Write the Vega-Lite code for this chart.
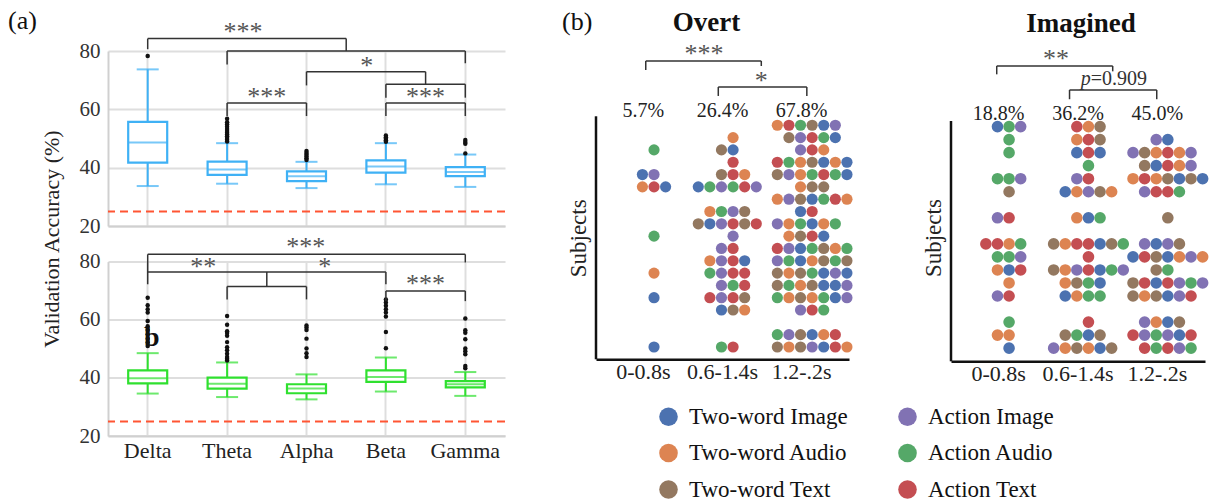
{
"$schema":"https://vega.github.io/schema/vega-lite/v6.json",
"background":"white",
"padding":{"left":8,"top":7,"right":0,"bottom":0},
"bounds":"flush",
"spacing":488,
"datasets":{
"topBox":[
{"band":"Delta","lo":33.7,"q1":41.7,"med":48.6,"q3":55.7,"hi":73.7},
{"band":"Theta","lo":34.5,"q1":37.5,"med":39.4,"q3":42.1,"hi":48.4},
{"band":"Alpha","lo":33.0,"q1":35.4,"med":37.1,"q3":38.7,"hi":42.0},
{"band":"Beta","lo":34.3,"q1":38.3,"med":40.4,"q3":42.5,"hi":48.4},
{"band":"Gamma","lo":33.4,"q1":37.1,"med":38.5,"q3":40.2,"hi":44.5}],
"topOut":[
{"band":"Delta","v":78.3},
{"band":"Theta","v":49.0},{"band":"Theta","v":49.6},{"band":"Theta","v":50.2},{"band":"Theta","v":50.8},{"band":"Theta","v":51.4},{"band":"Theta","v":52.0},{"band":"Theta","v":52.6},{"band":"Theta","v":53.3},{"band":"Theta","v":54.0},{"band":"Theta","v":54.8},{"band":"Theta","v":55.6},{"band":"Theta","v":56.8},
{"band":"Alpha","v":42.6},{"band":"Alpha","v":43.2},{"band":"Alpha","v":43.8},{"band":"Alpha","v":44.4},{"band":"Alpha","v":45.0},{"band":"Alpha","v":45.7},
{"band":"Beta","v":48.9},{"band":"Beta","v":49.4},{"band":"Beta","v":49.9},{"band":"Beta","v":50.4},{"band":"Beta","v":51.0},
{"band":"Gamma","v":44.9},{"band":"Gamma","v":48.2},{"band":"Gamma","v":48.8},{"band":"Gamma","v":49.5}],
"botBox":[
{"band":"Delta","lo":34.6,"q1":38.1,"med":39.9,"q3":42.6,"hi":48.5},
{"band":"Theta","lo":33.4,"q1":36.3,"med":38.0,"q3":40.1,"hi":45.3},
{"band":"Alpha","lo":32.6,"q1":34.7,"med":36.3,"q3":37.8,"hi":41.2},
{"band":"Beta","lo":35.3,"q1":38.6,"med":40.3,"q3":42.6,"hi":47.0},
{"band":"Gamma","lo":33.8,"q1":36.7,"med":37.8,"q3":38.9,"hi":42.0}],
"botOut":[
{"band":"Delta","v":51.0},{"band":"Delta","v":52.2},{"band":"Delta","v":53.5},{"band":"Delta","v":55.0},{"band":"Delta","v":56.5},{"band":"Delta","v":57.8},{"band":"Delta","v":59.6},{"band":"Delta","v":62.5},{"band":"Delta","v":63.6},{"band":"Delta","v":65.0},{"band":"Delta","v":67.6},
{"band":"Theta","v":46.0},{"band":"Theta","v":46.6},{"band":"Theta","v":47.2},{"band":"Theta","v":48.3},{"band":"Theta","v":49.5},{"band":"Theta","v":50.5},{"band":"Theta","v":52.3},{"band":"Theta","v":54.5},{"band":"Theta","v":55.4},{"band":"Theta","v":56.0},{"band":"Theta","v":58.3},{"band":"Theta","v":61.3},
{"band":"Alpha","v":47.2},{"band":"Alpha","v":48.5},{"band":"Alpha","v":50.1},{"band":"Alpha","v":53.5},{"band":"Alpha","v":56.5},{"band":"Alpha","v":57.3},{"band":"Alpha","v":58.0},
{"band":"Beta","v":50.2},{"band":"Beta","v":55.8},{"band":"Beta","v":61.1},{"band":"Beta","v":62.5},{"band":"Beta","v":63.6},{"band":"Beta","v":64.8},{"band":"Beta","v":65.9},{"band":"Beta","v":67.0},
{"band":"Gamma","v":43.3},{"band":"Gamma","v":44.1},{"band":"Gamma","v":48.1},{"band":"Gamma","v":49.2},{"band":"Gamma","v":50.1},{"band":"Gamma","v":53.3},{"band":"Gamma","v":55.5},{"band":"Gamma","v":56.4},{"band":"Gamma","v":60.4}],
"topSeg":[
{"x1":0,"x2":0,"y1":80.6,"y2":84.25},{"x1":0,"x2":2.5,"y1":84.25,"y2":84.25},{"x1":2.5,"x2":2.5,"y1":84.25,"y2":80},
{"x1":1,"x2":4,"y1":80,"y2":80},{"x1":1,"x2":1,"y1":80,"y2":75.4},{"x1":4,"x2":4,"y1":80,"y2":75.8},
{"x1":2,"x2":3.5,"y1":72.9,"y2":72.9},{"x1":2,"x2":2,"y1":72.9,"y2":68.2},{"x1":3.5,"x2":3.5,"y1":72.9,"y2":68.6},
{"x1":3,"x2":4,"y1":68.6,"y2":68.6},{"x1":3,"x2":3,"y1":68.6,"y2":64.0},{"x1":4,"x2":4,"y1":68.6,"y2":64.0},
{"x1":3,"x2":4,"y1":62.2,"y2":62.2},{"x1":3,"x2":3,"y1":62.2,"y2":57.7},{"x1":4,"x2":4,"y1":62.2,"y2":57.7},
{"x1":1,"x2":2,"y1":62.2,"y2":62.2},{"x1":1,"x2":1,"y1":62.2,"y2":57.7},{"x1":2,"x2":2,"y1":62.2,"y2":57.7}],
"topTxt":[{"x":1.2,"y":87.7,"t":"***"},{"x":2.76,"y":75.8,"t":"*"},{"x":3.5,"y":65.3,"t":"***"},{"x":1.5,"y":65.3,"t":"***"}],
"botSeg":[
{"x1":0,"x2":4,"y1":82.5,"y2":82.5},{"x1":4,"x2":4,"y1":82.5,"y2":79.7},{"x1":0,"x2":0,"y1":82.5,"y2":72.2},
{"x1":0,"x2":3,"y1":76.4,"y2":76.4},{"x1":3,"x2":3,"y1":76.4,"y2":72.2},{"x1":1.5,"x2":1.5,"y1":76.4,"y2":71.4},
{"x1":1,"x2":2,"y1":71.4,"y2":71.4},{"x1":1,"x2":1,"y1":71.4,"y2":67.0},{"x1":2,"x2":2,"y1":71.4,"y2":67.0},
{"x1":3,"x2":4,"y1":69.9,"y2":69.9},{"x1":3,"x2":3,"y1":69.9,"y2":66.4},{"x1":4,"x2":4,"y1":69.9,"y2":66.4}],
"botTxt":[{"x":1.99,"y":85.9,"t":"***"},{"x":0.7,"y":79.3,"t":"**"},{"x":2.23,"y":79.3,"t":"*"},{"x":3.5,"y":73.3,"t":"***"}],
"overt":[
{"w":"0-0.8s","s":3,"k":0,"c":"G"},
{"w":"0-0.8s","s":5,"k":-1,"c":"B"},{"w":"0-0.8s","s":5,"k":0,"c":"P"},
{"w":"0-0.8s","s":6,"k":-1,"c":"O"},{"w":"0-0.8s","s":6,"k":0,"c":"R"},{"w":"0-0.8s","s":6,"k":1,"c":"B"},
{"w":"0-0.8s","s":10,"k":0,"c":"G"},{"w":"0-0.8s","s":13,"k":0,"c":"O"},{"w":"0-0.8s","s":15,"k":0,"c":"B"},{"w":"0-0.8s","s":19,"k":0,"c":"B"},
{"w":"0.6-1.4s","s":2,"k":0,"c":"O"},
{"w":"0.6-1.4s","s":3,"k":-1,"c":"N"},{"w":"0.6-1.4s","s":3,"k":0,"c":"B"},
{"w":"0.6-1.4s","s":4,"k":0,"c":"R"},
{"w":"0.6-1.4s","s":5,"k":-1,"c":"N"},{"w":"0.6-1.4s","s":5,"k":0,"c":"R"},{"w":"0.6-1.4s","s":5,"k":1,"c":"O"},
{"w":"0.6-1.4s","s":6,"k":-3,"c":"B"},{"w":"0.6-1.4s","s":6,"k":-2,"c":"G"},{"w":"0.6-1.4s","s":6,"k":-1,"c":"P"},{"w":"0.6-1.4s","s":6,"k":0,"c":"G"},{"w":"0.6-1.4s","s":6,"k":1,"c":"R"},{"w":"0.6-1.4s","s":6,"k":2,"c":"P"},
{"w":"0.6-1.4s","s":8,"k":-2,"c":"O"},{"w":"0.6-1.4s","s":8,"k":-1,"c":"G"},{"w":"0.6-1.4s","s":8,"k":0,"c":"P"},{"w":"0.6-1.4s","s":8,"k":1,"c":"N"},
{"w":"0.6-1.4s","s":9,"k":-3,"c":"N"},{"w":"0.6-1.4s","s":9,"k":-2,"c":"B"},{"w":"0.6-1.4s","s":9,"k":-1,"c":"P"},{"w":"0.6-1.4s","s":9,"k":0,"c":"R"},{"w":"0.6-1.4s","s":9,"k":1,"c":"N"},{"w":"0.6-1.4s","s":9,"k":2,"c":"R"},
{"w":"0.6-1.4s","s":10,"k":0,"c":"P"},
{"w":"0.6-1.4s","s":11,"k":-1,"c":"P"},{"w":"0.6-1.4s","s":11,"k":0,"c":"R"},
{"w":"0.6-1.4s","s":12,"k":-2,"c":"O"},{"w":"0.6-1.4s","s":12,"k":-1,"c":"P"},{"w":"0.6-1.4s","s":12,"k":0,"c":"R"},{"w":"0.6-1.4s","s":12,"k":1,"c":"B"},
{"w":"0.6-1.4s","s":13,"k":-2,"c":"G"},{"w":"0.6-1.4s","s":13,"k":-1,"c":"P"},{"w":"0.6-1.4s","s":13,"k":0,"c":"R"},{"w":"0.6-1.4s","s":13,"k":1,"c":"R"},
{"w":"0.6-1.4s","s":14,"k":-1,"c":"P"},{"w":"0.6-1.4s","s":14,"k":0,"c":"G"},{"w":"0.6-1.4s","s":14,"k":1,"c":"R"},
{"w":"0.6-1.4s","s":15,"k":-2,"c":"R"},{"w":"0.6-1.4s","s":15,"k":-1,"c":"P"},{"w":"0.6-1.4s","s":15,"k":0,"c":"R"},{"w":"0.6-1.4s","s":15,"k":1,"c":"N"},
{"w":"0.6-1.4s","s":16,"k":-1,"c":"B"},{"w":"0.6-1.4s","s":16,"k":0,"c":"N"},{"w":"0.6-1.4s","s":16,"k":1,"c":"O"},
{"w":"0.6-1.4s","s":19,"k":-1,"c":"G"},{"w":"0.6-1.4s","s":19,"k":0,"c":"R"},
{"w":"1.2-.2s","s":1,"k":-3,"c":"O"},{"w":"1.2-.2s","s":1,"k":-2,"c":"R"},{"w":"1.2-.2s","s":1,"k":-1,"c":"G"},{"w":"1.2-.2s","s":1,"k":0,"c":"N"},{"w":"1.2-.2s","s":1,"k":1,"c":"B"},{"w":"1.2-.2s","s":1,"k":2,"c":"P"},
{"w":"1.2-.2s","s":2,"k":-2,"c":"N"},{"w":"1.2-.2s","s":2,"k":-1,"c":"P"},{"w":"1.2-.2s","s":2,"k":0,"c":"R"},{"w":"1.2-.2s","s":2,"k":1,"c":"G"},{"w":"1.2-.2s","s":2,"k":2,"c":"B"},
{"w":"1.2-.2s","s":3,"k":-1,"c":"P"},{"w":"1.2-.2s","s":3,"k":0,"c":"R"},{"w":"1.2-.2s","s":3,"k":1,"c":"O"},
{"w":"1.2-.2s","s":4,"k":-3,"c":"R"},{"w":"1.2-.2s","s":4,"k":-2,"c":"G"},{"w":"1.2-.2s","s":4,"k":-1,"c":"O"},{"w":"1.2-.2s","s":4,"k":0,"c":"N"},{"w":"1.2-.2s","s":4,"k":1,"c":"B"},{"w":"1.2-.2s","s":4,"k":2,"c":"O"},{"w":"1.2-.2s","s":4,"k":3,"c":"B"},
{"w":"1.2-.2s","s":5,"k":-3,"c":"N"},{"w":"1.2-.2s","s":5,"k":-2,"c":"P"},{"w":"1.2-.2s","s":5,"k":-1,"c":"O"},{"w":"1.2-.2s","s":5,"k":0,"c":"G"},{"w":"1.2-.2s","s":5,"k":1,"c":"R"},{"w":"1.2-.2s","s":5,"k":2,"c":"G"},{"w":"1.2-.2s","s":5,"k":3,"c":"B"},
{"w":"1.2-.2s","s":6,"k":-1,"c":"O"},{"w":"1.2-.2s","s":6,"k":0,"c":"N"},{"w":"1.2-.2s","s":6,"k":1,"c":"N"},
{"w":"1.2-.2s","s":7,"k":-3,"c":"O"},{"w":"1.2-.2s","s":7,"k":-2,"c":"P"},{"w":"1.2-.2s","s":7,"k":-1,"c":"N"},{"w":"1.2-.2s","s":7,"k":0,"c":"B"},{"w":"1.2-.2s","s":7,"k":1,"c":"G"},{"w":"1.2-.2s","s":7,"k":2,"c":"R"},{"w":"1.2-.2s","s":7,"k":3,"c":"O"},
{"w":"1.2-.2s","s":8,"k":-1,"c":"B"},{"w":"1.2-.2s","s":8,"k":0,"c":"R"},
{"w":"1.2-.2s","s":9,"k":-3,"c":"P"},{"w":"1.2-.2s","s":9,"k":-2,"c":"O"},{"w":"1.2-.2s","s":9,"k":-1,"c":"G"},{"w":"1.2-.2s","s":9,"k":0,"c":"B"},{"w":"1.2-.2s","s":9,"k":1,"c":"O"},{"w":"1.2-.2s","s":9,"k":2,"c":"G"},
{"w":"1.2-.2s","s":10,"k":-2,"c":"O"},{"w":"1.2-.2s","s":10,"k":-1,"c":"N"},{"w":"1.2-.2s","s":10,"k":0,"c":"R"},{"w":"1.2-.2s","s":10,"k":1,"c":"B"},
{"w":"1.2-.2s","s":11,"k":-3,"c":"R"},{"w":"1.2-.2s","s":11,"k":-2,"c":"P"},{"w":"1.2-.2s","s":11,"k":-1,"c":"B"},{"w":"1.2-.2s","s":11,"k":0,"c":"G"},{"w":"1.2-.2s","s":11,"k":1,"c":"N"},{"w":"1.2-.2s","s":11,"k":2,"c":"O"},{"w":"1.2-.2s","s":11,"k":3,"c":"G"},
{"w":"1.2-.2s","s":12,"k":-3,"c":"P"},{"w":"1.2-.2s","s":12,"k":-2,"c":"G"},{"w":"1.2-.2s","s":12,"k":-1,"c":"B"},{"w":"1.2-.2s","s":12,"k":0,"c":"O"},{"w":"1.2-.2s","s":12,"k":1,"c":"N"},{"w":"1.2-.2s","s":12,"k":2,"c":"G"},{"w":"1.2-.2s","s":12,"k":3,"c":"N"},
{"w":"1.2-.2s","s":13,"k":-3,"c":"N"},{"w":"1.2-.2s","s":13,"k":-2,"c":"O"},{"w":"1.2-.2s","s":13,"k":-1,"c":"N"},{"w":"1.2-.2s","s":13,"k":0,"c":"G"},{"w":"1.2-.2s","s":13,"k":1,"c":"B"},{"w":"1.2-.2s","s":13,"k":2,"c":"P"},{"w":"1.2-.2s","s":13,"k":3,"c":"B"},
{"w":"1.2-.2s","s":14,"k":-3,"c":"N"},{"w":"1.2-.2s","s":14,"k":-2,"c":"G"},{"w":"1.2-.2s","s":14,"k":-1,"c":"O"},{"w":"1.2-.2s","s":14,"k":0,"c":"N"},{"w":"1.2-.2s","s":14,"k":1,"c":"B"},{"w":"1.2-.2s","s":14,"k":2,"c":"B"},{"w":"1.2-.2s","s":14,"k":3,"c":"P"},
{"w":"1.2-.2s","s":15,"k":-3,"c":"G"},{"w":"1.2-.2s","s":15,"k":-2,"c":"O"},{"w":"1.2-.2s","s":15,"k":-1,"c":"N"},{"w":"1.2-.2s","s":15,"k":0,"c":"O"},{"w":"1.2-.2s","s":15,"k":1,"c":"G"},{"w":"1.2-.2s","s":15,"k":2,"c":"B"},{"w":"1.2-.2s","s":15,"k":3,"c":"P"},
{"w":"1.2-.2s","s":16,"k":-1,"c":"P"},{"w":"1.2-.2s","s":16,"k":0,"c":"R"},{"w":"1.2-.2s","s":16,"k":1,"c":"G"},
{"w":"1.2-.2s","s":18,"k":-3,"c":"G"},{"w":"1.2-.2s","s":18,"k":-2,"c":"P"},{"w":"1.2-.2s","s":18,"k":-1,"c":"N"},{"w":"1.2-.2s","s":18,"k":0,"c":"B"},{"w":"1.2-.2s","s":18,"k":1,"c":"O"},{"w":"1.2-.2s","s":18,"k":2,"c":"R"},
{"w":"1.2-.2s","s":19,"k":-3,"c":"N"},{"w":"1.2-.2s","s":19,"k":-2,"c":"O"},{"w":"1.2-.2s","s":19,"k":-1,"c":"N"},{"w":"1.2-.2s","s":19,"k":0,"c":"P"},{"w":"1.2-.2s","s":19,"k":1,"c":"B"},{"w":"1.2-.2s","s":19,"k":2,"c":"R"},{"w":"1.2-.2s","s":19,"k":3,"c":"O"}],
"imag":[
{"w":"0-0.8s","s":1,"k":-1,"c":"B"},{"w":"0-0.8s","s":1,"k":0,"c":"G"},{"w":"0-0.8s","s":1,"k":1,"c":"P"},
{"w":"0-0.8s","s":2,"k":0,"c":"G"},{"w":"0-0.8s","s":3,"k":0,"c":"G"},
{"w":"0-0.8s","s":5,"k":-1,"c":"G"},{"w":"0-0.8s","s":5,"k":0,"c":"G"},{"w":"0-0.8s","s":5,"k":1,"c":"P"},
{"w":"0-0.8s","s":6,"k":0,"c":"N"},
{"w":"0-0.8s","s":8,"k":-1,"c":"P"},{"w":"0-0.8s","s":8,"k":0,"c":"R"},
{"w":"0-0.8s","s":10,"k":-2,"c":"R"},{"w":"0-0.8s","s":10,"k":-1,"c":"R"},{"w":"0-0.8s","s":10,"k":0,"c":"O"},{"w":"0-0.8s","s":10,"k":1,"c":"G"},
{"w":"0-0.8s","s":11,"k":-1,"c":"G"},{"w":"0-0.8s","s":11,"k":0,"c":"G"},{"w":"0-0.8s","s":11,"k":1,"c":"P"},
{"w":"0-0.8s","s":12,"k":-1,"c":"O"},{"w":"0-0.8s","s":12,"k":0,"c":"B"},{"w":"0-0.8s","s":12,"k":1,"c":"R"},
{"w":"0-0.8s","s":13,"k":0,"c":"O"},
{"w":"0-0.8s","s":14,"k":-1,"c":"P"},{"w":"0-0.8s","s":14,"k":0,"c":"R"},
{"w":"0-0.8s","s":16,"k":0,"c":"G"},
{"w":"0-0.8s","s":17,"k":-1,"c":"O"},{"w":"0-0.8s","s":17,"k":0,"c":"O"},
{"w":"0-0.8s","s":18,"k":0,"c":"B"},
{"w":"0.6-1.4s","s":1,"k":-1,"c":"R"},{"w":"0.6-1.4s","s":1,"k":0,"c":"O"},{"w":"0.6-1.4s","s":1,"k":1,"c":"N"},
{"w":"0.6-1.4s","s":2,"k":-1,"c":"O"},{"w":"0.6-1.4s","s":2,"k":0,"c":"R"},{"w":"0.6-1.4s","s":2,"k":1,"c":"N"},
{"w":"0.6-1.4s","s":3,"k":-1,"c":"B"},{"w":"0.6-1.4s","s":3,"k":0,"c":"R"},{"w":"0.6-1.4s","s":3,"k":1,"c":"B"},
{"w":"0.6-1.4s","s":4,"k":0,"c":"G"},
{"w":"0.6-1.4s","s":5,"k":-1,"c":"P"},{"w":"0.6-1.4s","s":5,"k":0,"c":"R"},
{"w":"0.6-1.4s","s":6,"k":-2,"c":"B"},{"w":"0.6-1.4s","s":6,"k":-1,"c":"O"},{"w":"0.6-1.4s","s":6,"k":0,"c":"P"},{"w":"0.6-1.4s","s":6,"k":1,"c":"N"},{"w":"0.6-1.4s","s":6,"k":2,"c":"O"},
{"w":"0.6-1.4s","s":8,"k":-1,"c":"O"},{"w":"0.6-1.4s","s":8,"k":0,"c":"B"},{"w":"0.6-1.4s","s":8,"k":1,"c":"G"},
{"w":"0.6-1.4s","s":10,"k":-3,"c":"N"},{"w":"0.6-1.4s","s":10,"k":-2,"c":"O"},{"w":"0.6-1.4s","s":10,"k":-1,"c":"R"},{"w":"0.6-1.4s","s":10,"k":0,"c":"R"},{"w":"0.6-1.4s","s":10,"k":1,"c":"B"},{"w":"0.6-1.4s","s":10,"k":2,"c":"N"},{"w":"0.6-1.4s","s":10,"k":3,"c":"G"},
{"w":"0.6-1.4s","s":11,"k":0,"c":"R"},
{"w":"0.6-1.4s","s":12,"k":-3,"c":"N"},{"w":"0.6-1.4s","s":12,"k":-2,"c":"O"},{"w":"0.6-1.4s","s":12,"k":-1,"c":"P"},{"w":"0.6-1.4s","s":12,"k":0,"c":"R"},{"w":"0.6-1.4s","s":12,"k":1,"c":"B"},{"w":"0.6-1.4s","s":12,"k":2,"c":"G"},{"w":"0.6-1.4s","s":12,"k":3,"c":"P"},
{"w":"0.6-1.4s","s":13,"k":-2,"c":"O"},{"w":"0.6-1.4s","s":13,"k":-1,"c":"N"},{"w":"0.6-1.4s","s":13,"k":0,"c":"G"},{"w":"0.6-1.4s","s":13,"k":1,"c":"B"},
{"w":"0.6-1.4s","s":14,"k":-2,"c":"B"},{"w":"0.6-1.4s","s":14,"k":-1,"c":"O"},{"w":"0.6-1.4s","s":14,"k":0,"c":"G"},{"w":"0.6-1.4s","s":14,"k":1,"c":"G"},
{"w":"0.6-1.4s","s":16,"k":0,"c":"R"},
{"w":"0.6-1.4s","s":17,"k":-2,"c":"N"},{"w":"0.6-1.4s","s":17,"k":-1,"c":"G"},{"w":"0.6-1.4s","s":17,"k":0,"c":"B"},{"w":"0.6-1.4s","s":17,"k":1,"c":"N"},
{"w":"0.6-1.4s","s":18,"k":-3,"c":"P"},{"w":"0.6-1.4s","s":18,"k":-2,"c":"O"},{"w":"0.6-1.4s","s":18,"k":-1,"c":"N"},{"w":"0.6-1.4s","s":18,"k":0,"c":"O"},{"w":"0.6-1.4s","s":18,"k":1,"c":"B"},{"w":"0.6-1.4s","s":18,"k":2,"c":"N"},
{"w":"1.2-.2s","s":2,"k":-1,"c":"P"},{"w":"1.2-.2s","s":2,"k":0,"c":"B"},
{"w":"1.2-.2s","s":3,"k":-3,"c":"P"},{"w":"1.2-.2s","s":3,"k":-2,"c":"N"},{"w":"1.2-.2s","s":3,"k":-1,"c":"O"},{"w":"1.2-.2s","s":3,"k":0,"c":"R"},{"w":"1.2-.2s","s":3,"k":1,"c":"O"},{"w":"1.2-.2s","s":3,"k":2,"c":"P"},
{"w":"1.2-.2s","s":4,"k":-2,"c":"N"},{"w":"1.2-.2s","s":4,"k":-1,"c":"B"},{"w":"1.2-.2s","s":4,"k":0,"c":"R"},{"w":"1.2-.2s","s":4,"k":1,"c":"O"},{"w":"1.2-.2s","s":4,"k":2,"c":"P"},
{"w":"1.2-.2s","s":5,"k":-3,"c":"O"},{"w":"1.2-.2s","s":5,"k":-2,"c":"R"},{"w":"1.2-.2s","s":5,"k":-1,"c":"O"},{"w":"1.2-.2s","s":5,"k":0,"c":"N"},{"w":"1.2-.2s","s":5,"k":1,"c":"B"},{"w":"1.2-.2s","s":5,"k":2,"c":"N"},{"w":"1.2-.2s","s":5,"k":3,"c":"B"},
{"w":"1.2-.2s","s":6,"k":-2,"c":"P"},{"w":"1.2-.2s","s":6,"k":-1,"c":"R"},{"w":"1.2-.2s","s":6,"k":0,"c":"R"},{"w":"1.2-.2s","s":6,"k":1,"c":"G"},
{"w":"1.2-.2s","s":8,"k":0,"c":"N"},
{"w":"1.2-.2s","s":10,"k":-2,"c":"P"},{"w":"1.2-.2s","s":10,"k":-1,"c":"B"},{"w":"1.2-.2s","s":10,"k":0,"c":"P"},{"w":"1.2-.2s","s":10,"k":1,"c":"N"},
{"w":"1.2-.2s","s":11,"k":-3,"c":"B"},{"w":"1.2-.2s","s":11,"k":-2,"c":"R"},{"w":"1.2-.2s","s":11,"k":-1,"c":"N"},{"w":"1.2-.2s","s":11,"k":0,"c":"B"},{"w":"1.2-.2s","s":11,"k":1,"c":"O"},{"w":"1.2-.2s","s":11,"k":2,"c":"P"},{"w":"1.2-.2s","s":11,"k":3,"c":"O"},
{"w":"1.2-.2s","s":12,"k":-1,"c":"N"},{"w":"1.2-.2s","s":12,"k":0,"c":"G"},
{"w":"1.2-.2s","s":13,"k":-3,"c":"N"},{"w":"1.2-.2s","s":13,"k":-2,"c":"R"},{"w":"1.2-.2s","s":13,"k":-1,"c":"B"},{"w":"1.2-.2s","s":13,"k":0,"c":"R"},{"w":"1.2-.2s","s":13,"k":1,"c":"P"},{"w":"1.2-.2s","s":13,"k":2,"c":"G"},{"w":"1.2-.2s","s":13,"k":3,"c":"P"},
{"w":"1.2-.2s","s":14,"k":-3,"c":"N"},{"w":"1.2-.2s","s":14,"k":-2,"c":"O"},{"w":"1.2-.2s","s":14,"k":-1,"c":"N"},{"w":"1.2-.2s","s":14,"k":0,"c":"B"},{"w":"1.2-.2s","s":14,"k":1,"c":"P"},{"w":"1.2-.2s","s":14,"k":2,"c":"R"},
{"w":"1.2-.2s","s":16,"k":-2,"c":"P"},{"w":"1.2-.2s","s":16,"k":-1,"c":"O"},{"w":"1.2-.2s","s":16,"k":0,"c":"B"},{"w":"1.2-.2s","s":16,"k":1,"c":"N"},
{"w":"1.2-.2s","s":17,"k":-3,"c":"R"},{"w":"1.2-.2s","s":17,"k":-2,"c":"P"},{"w":"1.2-.2s","s":17,"k":-1,"c":"G"},{"w":"1.2-.2s","s":17,"k":0,"c":"P"},{"w":"1.2-.2s","s":17,"k":1,"c":"B"},{"w":"1.2-.2s","s":17,"k":2,"c":"R"},
{"w":"1.2-.2s","s":18,"k":-2,"c":"R"},{"w":"1.2-.2s","s":18,"k":-1,"c":"G"},{"w":"1.2-.2s","s":18,"k":0,"c":"R"},{"w":"1.2-.2s","s":18,"k":1,"c":"P"},{"w":"1.2-.2s","s":18,"k":2,"c":"G"}],
"overtPct":[{"w":"0-0.8s","t":"5.7%"},{"w":"0.6-1.4s","t":"26.4%"},{"w":"1.2-.2s","t":"67.8%"}],
"imagPct":[{"w":"0-0.8s","t":"18.8%"},{"w":"0.6-1.4s","t":"36.2%"},{"w":"1.2-.2s","t":"45.0%"}],
"overtSeg":[
{"x1":0.09,"x2":1.46,"y1":-4.22,"y2":-4.22},{"x1":0.09,"x2":0.09,"y1":-4.22,"y2":-3.49},{"x1":1.46,"x2":1.46,"y1":-4.22,"y2":-3.81},
{"x1":0.95,"x2":2.0,"y1":-2.11,"y2":-2.11},{"x1":0.95,"x2":0.95,"y1":-2.11,"y2":-1.38},{"x1":2.0,"x2":2.0,"y1":-2.11,"y2":-1.38}],
"overtTxt":[{"x":0.78,"y":-5.03,"t":"***"},{"x":1.46,"y":-2.82,"t":"*"}],
"overtAx":[{"x1":-0.5,"x2":-0.5,"y1":0.27,"y2":20.0}],
"imagSeg":[
{"x1":0.04,"x2":1.41,"y1":-3.65,"y2":-3.65},{"x1":0.04,"x2":0.04,"y1":-3.65,"y2":-3.01},{"x1":1.41,"x2":1.41,"y1":-3.65,"y2":-3.24},
{"x1":0.90,"x2":1.93,"y1":-1.81,"y2":-1.81},{"x1":0.90,"x2":0.90,"y1":-1.81,"y2":-1.10},{"x1":1.93,"x2":1.93,"y1":-1.81,"y2":-1.10}],
"imagTxt":[{"x":0.74,"y":-4.42,"t":"**"}],
"imagPsym":[{"x":1.15,"y":-2.63,"t":"p"}],
"imagPval":[{"x":1.15,"y":-2.63,"t":"=0.909"}],
"imagAx":[{"x1":-0.5,"x2":-0.5,"y1":0.57,"y2":19.01}],
"chance":[{"v":25}],
"bMark":[{"x":0.05,"y":53.6,"t":"b"}]
},
"hconcat":[
{
"title":{"text":"(a)","anchor":"start","frame":"group","dx":-100,"dy":19,"fontSize":26,"fontWeight":"normal","font":"Liberation Serif","color":"#111"},
"bounds":"flush",
"spacing":35.6,
"vconcat":[
{
"width":397,"height":175,
"resolve":{"scale":{"x":"independent"}},
"layer":[
{"data":{"name":"topBox"},
"layer":[
{"mark":{"type":"rule","color":"#3fb1f5","strokeWidth":2},
"encoding":{"x":{"field":"band","type":"nominal","sort":["Delta","Theta","Alpha","Beta","Gamma"],"axis":{"title":null,"labels":false,"ticks":false,"domain":true,"domainColor":"#d0d0d0","domainWidth":2,"grid":true,"gridColor":"#dedede","gridWidth":2,"bandPosition":0.5}},
"y":{"field":"lo","type":"quantitative","scale":{"domain":[20,80],"nice":false,"zero":false},"axis":{"title":null,"values":[20,40,60,80],"ticks":false,"domainColor":"#d0d0d0","domainWidth":2,"gridColor":"#dedede","gridWidth":2,"labelFontSize":21,"labelPadding":8,"labelColor":"#333"}},
"y2":{"field":"hi"}}},
{"mark":{"type":"bar","fill":"white","stroke":"#3fb1f5","strokeWidth":2.2,"width":39},
"encoding":{"x":{"field":"band","type":"nominal","sort":["Delta","Theta","Alpha","Beta","Gamma"]},"y":{"field":"q1","type":"quantitative"},"y2":{"field":"q3"}}},
{"mark":{"type":"tick","color":"#3fb1f5","thickness":2,"size":39},
"encoding":{"x":{"field":"band","type":"nominal","sort":["Delta","Theta","Alpha","Beta","Gamma"]},"y":{"field":"med","type":"quantitative"}}},
{"mark":{"type":"tick","color":"#3fb1f5","thickness":2,"size":22},
"encoding":{"x":{"field":"band","type":"nominal","sort":["Delta","Theta","Alpha","Beta","Gamma"]},"y":{"field":"lo","type":"quantitative"}}},
{"mark":{"type":"tick","color":"#3fb1f5","thickness":2,"size":22},
"encoding":{"x":{"field":"band","type":"nominal","sort":["Delta","Theta","Alpha","Beta","Gamma"]},"y":{"field":"hi","type":"quantitative"}}},
{"data":{"name":"topOut"},"mark":{"type":"circle","color":"#111","size":20,"opacity":1},
"encoding":{"x":{"field":"band","type":"nominal","sort":["Delta","Theta","Alpha","Beta","Gamma"]},"y":{"field":"v","type":"quantitative"}}}
]},
{"layer":[
{"data":{"name":"chance"},"mark":{"type":"rule","color":"#ff5533","strokeWidth":2,"strokeDash":[8,5]},
"encoding":{"y":{"field":"v","type":"quantitative"}}},
{"data":{"name":"topSeg"},"mark":{"type":"rule","color":"#333","strokeWidth":1.5},
"encoding":{"x":{"field":"x1","type":"quantitative","scale":{"domain":[-0.5,4.5],"nice":false,"zero":false},"axis":null},"x2":{"field":"x2"},"y":{"field":"y1","type":"quantitative"},"y2":{"field":"y2"}}},
{"data":{"name":"topTxt"},"mark":{"type":"text","fontSize":26,"color":"#555","baseline":"middle","dy":3,"font":"Liberation Serif"},
"encoding":{"x":{"field":"x","type":"quantitative"},"y":{"field":"y","type":"quantitative"},"text":{"field":"t"}}}
]}
]
},
{
"width":397,"height":174.4,
"resolve":{"scale":{"x":"independent"}},
"layer":[
{"data":{"name":"botBox"},
"layer":[
{"mark":{"type":"rule","color":"#2fe02f","strokeWidth":2},
"encoding":{"x":{"field":"band","type":"nominal","sort":["Delta","Theta","Alpha","Beta","Gamma"],"axis":{"title":null,"labels":true,"labelAngle":0,"labelFontSize":22,"labelPadding":4,"labelColor":"#222","ticks":false,"domain":true,"domainColor":"#d0d0d0","domainWidth":2,"grid":true,"gridColor":"#dedede","gridWidth":2,"bandPosition":0.5}},
"y":{"field":"lo","type":"quantitative","scale":{"domain":[20,80],"nice":false,"zero":false},"axis":{"title":"Validation Accuracy (%)","titleFontSize":22,"titleFontWeight":"normal","titleColor":"#222","titleX":-50,"titleY":-23,"titleBaseline":"alphabetic","titleAlign":"center","values":[20,40,60,80],"ticks":false,"domainColor":"#d0d0d0","domainWidth":2,"gridColor":"#dedede","gridWidth":2,"labelFontSize":21,"labelPadding":8,"labelColor":"#333"}},
"y2":{"field":"hi"}}},
{"mark":{"type":"bar","fill":"white","stroke":"#2fe02f","strokeWidth":2.2,"width":39},
"encoding":{"x":{"field":"band","type":"nominal","sort":["Delta","Theta","Alpha","Beta","Gamma"]},"y":{"field":"q1","type":"quantitative"},"y2":{"field":"q3"}}},
{"mark":{"type":"tick","color":"#2fe02f","thickness":2,"size":39},
"encoding":{"x":{"field":"band","type":"nominal","sort":["Delta","Theta","Alpha","Beta","Gamma"]},"y":{"field":"med","type":"quantitative"}}},
{"mark":{"type":"tick","color":"#2fe02f","thickness":2,"size":22},
"encoding":{"x":{"field":"band","type":"nominal","sort":["Delta","Theta","Alpha","Beta","Gamma"]},"y":{"field":"lo","type":"quantitative"}}},
{"mark":{"type":"tick","color":"#2fe02f","thickness":2,"size":22},
"encoding":{"x":{"field":"band","type":"nominal","sort":["Delta","Theta","Alpha","Beta","Gamma"]},"y":{"field":"hi","type":"quantitative"}}},
{"data":{"name":"botOut"},"mark":{"type":"circle","color":"#111","size":20,"opacity":1},
"encoding":{"x":{"field":"band","type":"nominal","sort":["Delta","Theta","Alpha","Beta","Gamma"]},"y":{"field":"v","type":"quantitative"}}}
]},
{"layer":[
{"data":{"name":"chance"},"mark":{"type":"rule","color":"#ff5533","strokeWidth":2,"strokeDash":[8,5]},
"encoding":{"y":{"field":"v","type":"quantitative"}}},
{"data":{"name":"botSeg"},"mark":{"type":"rule","color":"#333","strokeWidth":1.5},
"encoding":{"x":{"field":"x1","type":"quantitative","scale":{"domain":[-0.5,4.5],"nice":false,"zero":false},"axis":null},"x2":{"field":"x2"},"y":{"field":"y1","type":"quantitative"},"y2":{"field":"y2"}}},
{"data":{"name":"botTxt"},"mark":{"type":"text","fontSize":26,"color":"#555","baseline":"middle","dy":3,"font":"Liberation Serif"},
"encoding":{"x":{"field":"x","type":"quantitative"},"y":{"field":"y","type":"quantitative"},"text":{"field":"t"}}},
{"data":{"name":"bMark"},"mark":{"type":"text","fontSize":28,"fontWeight":"bold","color":"#111","baseline":"middle","font":"Liberation Serif"},
"encoding":{"x":{"field":"x","type":"quantitative"},"y":{"field":"y","type":"quantitative"},"text":{"field":"t"}}}
]}
]
}
]
},
{
"title":{"text":"(b)","anchor":"start","frame":"group","dx":-34,"dy":30,"fontSize":26,"fontWeight":"normal","font":"Liberation Serif","color":"#111"},
"bounds":"flush",
"spacing":102,
"hconcat":[
{
"width":253,"height":308.3,
"title":{"text":"Overt","fontSize":27,"fontWeight":"bold","font":"Liberation Serif","color":"#111","dx":-16,"anchor":"middle","frame":"group"},
"resolve":{"scale":{"x":"independent"}},
"layer":[
{"layer":[
{"data":{"name":"overt"},"mark":{"type":"circle","size":125,"opacity":1},
"encoding":{
"x":{"field":"w","type":"nominal","sort":["0-0.8s","0.6-1.4s","1.2-.2s"],"axis":{"title":null,"ticks":false,"domain":true,"domainColor":"#111","domainWidth":2.5,"labelFontSize":22,"labelPadding":2,"labelAngle":0,"labelColor":"#222","grid":false}},
"xOffset":{"field":"k","type":"quantitative","scale":{"domain":[-3,3],"range":[7.4,77.0]}},
"y":{"field":"s","type":"quantitative","scale":{"domain":[-5.03,20.0],"reverse":true,"nice":false,"zero":false},"axis":{"title":"Subjects","titleFontSize":23,"titleFontWeight":"normal","titleColor":"#222","titleX":-11,"titleY":186.8,"titleBaseline":"alphabetic","titleAlign":"center","domain":false,"ticks":false,"labels":false,"grid":false}},
"color":{"field":"c","type":"nominal","scale":{"domain":["B","O","N","P","G","R"],"range":["#4C72B0","#DD8452","#937860","#8172B3","#55A868","#C44E52"]},
"legend":{"title":null,"orient":"none","legendX":549,"legendY":354,"columns":2,"symbolType":"circle","symbolSize":346,"symbolStrokeWidth":0,"symbolOpacity":1,"labelFont":"Liberation Serif","labelFontSize":23,"labelLimit":0,"labelColor":"#111","rowPadding":12.5,"columnPadding":48,"labelOffset":9,
"labelExpr":"datum.label == 'B' ? 'Two-word Image' : datum.label == 'O' ? 'Two-word Audio' : datum.label == 'N' ? 'Two-word Text' : datum.label == 'P' ? 'Action Image' : datum.label == 'G' ? 'Action Audio' : 'Action Text'"}}}},
{"data":{"name":"overtPct"},"mark":{"type":"text","fontSize":20,"color":"#222","baseline":"middle","dy":2.5,"font":"Liberation Serif"},
"encoding":{"x":{"field":"w","type":"nominal","sort":["0-0.8s","0.6-1.4s","1.2-.2s"]},"y":{"datum":-0.38,"type":"quantitative"},"text":{"field":"t"}}}
]},
{"layer":[
{"data":{"name":"overtAx"},"mark":{"type":"rule","color":"#111","strokeWidth":2.5},
"encoding":{"x":{"field":"x1","type":"quantitative","scale":{"domain":[-0.5,2.5],"nice":false,"zero":false},"axis":null},"x2":{"field":"x2"},"y":{"field":"y1","type":"quantitative"},"y2":{"field":"y2"}}},
{"data":{"name":"overtSeg"},"mark":{"type":"rule","color":"#333","strokeWidth":1.5},
"encoding":{"x":{"field":"x1","type":"quantitative"},"x2":{"field":"x2"},"y":{"field":"y1","type":"quantitative"},"y2":{"field":"y2"}}},
{"data":{"name":"overtTxt"},"mark":{"type":"text","fontSize":26,"color":"#555","baseline":"middle","dy":3,"font":"Liberation Serif"},
"encoding":{"x":{"field":"x","type":"quantitative"},"y":{"field":"y","type":"quantitative"},"text":{"field":"t"}}}
]}
]
},
{
"width":254,"height":310.3,
"title":{"text":"Imagined","fontSize":27,"fontWeight":"bold","font":"Liberation Serif","color":"#111","dx":3,"dy":-4,"anchor":"middle","frame":"group"},
"resolve":{"scale":{"x":"independent"}},
"layer":[
{"layer":[
{"data":{"name":"imag"},"mark":{"type":"circle","size":135,"opacity":1},
"encoding":{
"x":{"field":"w","type":"nominal","sort":["0-0.8s","0.6-1.4s","1.2-.2s"],"axis":{"title":null,"ticks":false,"domain":true,"domainColor":"#111","domainWidth":2.5,"labelFontSize":22,"labelPadding":2,"labelAngle":0,"labelColor":"#222","grid":false}},
"xOffset":{"field":"k","type":"quantitative","scale":{"domain":[-3,3],"range":[5.8,78.8]}},
"y":{"field":"s","type":"quantitative","scale":{"domain":[-4.80,19.01],"reverse":true,"nice":false,"zero":false},"axis":{"title":"Subjects","titleFontSize":23,"titleFontWeight":"normal","titleColor":"#222","titleX":-11,"titleY":186.6,"titleBaseline":"alphabetic","titleAlign":"center","domain":false,"ticks":false,"labels":false,"grid":false}},
"color":{"field":"c","type":"nominal","scale":{"domain":["B","O","N","P","G","R"],"range":["#4C72B0","#DD8452","#937860","#8172B3","#55A868","#C44E52"]},
"legend":{"title":null,"orient":"none","legendX":549,"legendY":354,"columns":2,"symbolType":"circle","symbolSize":346,"symbolStrokeWidth":0,"symbolOpacity":1,"labelFont":"Liberation Serif","labelFontSize":23,"labelLimit":0,"labelColor":"#111","rowPadding":12.5,"columnPadding":48,"labelOffset":9,
"labelExpr":"datum.label == 'B' ? 'Two-word Image' : datum.label == 'O' ? 'Two-word Audio' : datum.label == 'N' ? 'Two-word Text' : datum.label == 'P' ? 'Action Image' : datum.label == 'G' ? 'Action Audio' : 'Action Text'"}}}},
{"data":{"name":"imagPct"},"mark":{"type":"text","fontSize":20,"color":"#222","baseline":"middle","dy":4,"font":"Liberation Serif"},
"encoding":{"x":{"field":"w","type":"nominal","sort":["0-0.8s","0.6-1.4s","1.2-.2s"]},"y":{"datum":-0.25,"type":"quantitative"},"text":{"field":"t"}}}
]},
{"layer":[
{"data":{"name":"imagAx"},"mark":{"type":"rule","color":"#111","strokeWidth":2.5},
"encoding":{"x":{"field":"x1","type":"quantitative","scale":{"domain":[-0.5,2.5],"nice":false,"zero":false},"axis":null},"x2":{"field":"x2"},"y":{"field":"y1","type":"quantitative"},"y2":{"field":"y2"}}},
{"data":{"name":"imagSeg"},"mark":{"type":"rule","color":"#333","strokeWidth":1.5},
"encoding":{"x":{"field":"x1","type":"quantitative"},"x2":{"field":"x2"},"y":{"field":"y1","type":"quantitative"},"y2":{"field":"y2"}}},
{"data":{"name":"imagTxt"},"mark":{"type":"text","fontSize":26,"color":"#555","baseline":"middle","dy":3,"font":"Liberation Serif"},
"encoding":{"x":{"field":"x","type":"quantitative"},"y":{"field":"y","type":"quantitative"},"text":{"field":"t"}}},
{"data":{"name":"imagPsym"},"mark":{"type":"text","fontSize":20,"fontStyle":"italic","color":"#333","baseline":"middle","align":"right","font":"Liberation Serif"},
"encoding":{"x":{"field":"x","type":"quantitative"},"y":{"field":"y","type":"quantitative"},"text":{"field":"t"}}},
{"data":{"name":"imagPval"},"mark":{"type":"text","fontSize":20,"color":"#333","baseline":"middle","align":"left","font":"Liberation Serif"},
"encoding":{"x":{"field":"x","type":"quantitative"},"y":{"field":"y","type":"quantitative"},"text":{"field":"t"}}}
]}
]
}
]
}
],
"config":{
"view":{"stroke":null},
"font":"Liberation Serif",
"scale":{"bandPaddingInner":0,"bandPaddingOuter":0,"offsetBandPaddingInner":0,"offsetBandPaddingOuter":0},
"axis":{"labelFont":"Liberation Serif","titleFont":"Liberation Serif"},
"legend":{"labelFont":"Liberation Serif"}
}
}
